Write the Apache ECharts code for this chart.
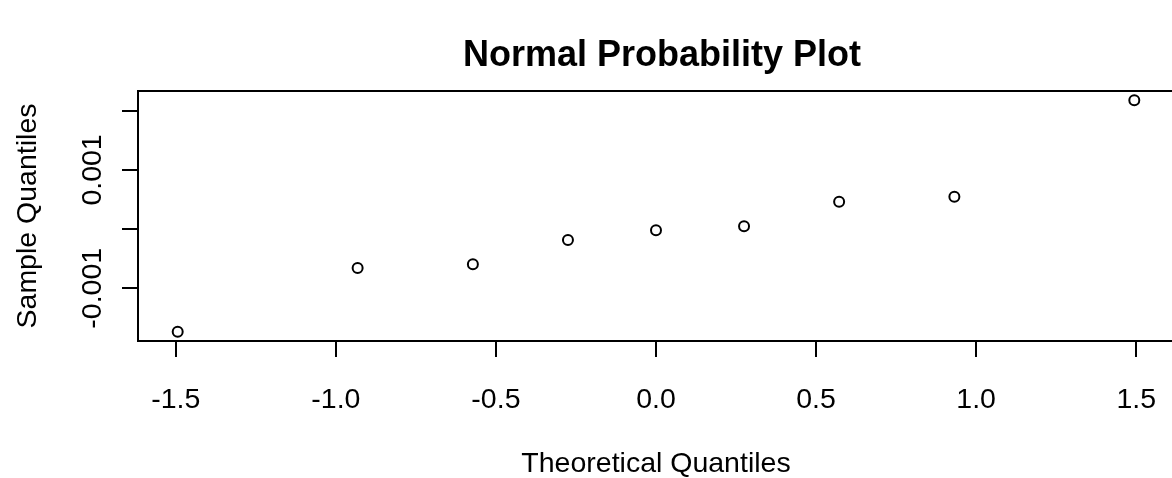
<!DOCTYPE html>
<html>
<head>
<meta charset="utf-8">
<script src="https://cdn.jsdelivr.net/npm/echarts@6/dist/echarts.min.js"></script>
<style>
  html, body { margin: 0; padding: 0; background: #fff; }
  #chart { width: 1172px; height: 478px; }
</style>
</head>
<body>
<div id="chart"></div>
<script>
// theoretical quantiles (n = 9) and the sample quantiles
const theoretical = [-1.494, -0.932, -0.572, -0.275, 0, 0.275, 0.572, 0.932, 1.494];
const sample = [-0.001735, -0.000658, -0.000595, -0.000184, -0.00002, 0.000047, 0.000463, 0.000548, 0.002178];
const xTicks = [-1.5, -1.0, -0.5, 0.0, 0.5, 1.0, 1.5];
const yTicks = [-0.001, 0, 0.001, 0.002];
const yLabels = [-0.001, 0.001];

const font = "Liberation Sans";
const points = theoretical.map((x, i) => [x, sample[i]]);

var myChart = echarts.init(document.getElementById("chart"));

myChart.setOption({
  animation: false,
  title: {
    text: "Normal Probability Plot",
    left: 657,
    top: 33,
    textAlign: "center",
    textStyle: { fontFamily: font, fontSize: 36, fontWeight: "bold", color: "#000" },
  },
  grid: {
    left: 138,
    top: 91,
    right: -2,
    bottom: 137,
    containLabel: false,
    outerBoundsMode: "none",
    show: true,
    borderColor: "#000",
    borderWidth: 2,
  },
  xAxis: {
    type: "value",
    min: -1.618,
    max: 1.618,
    name: "Theoretical Quantiles",
    nameLocation: "middle",
    nameGap: 109,
    nameTextStyle: { fontFamily: font, fontSize: 28.5, color: "#000" },
    splitLine: { show: false },
    axisLine: { show: true, onZero: false, lineStyle: { color: "#000", width: 2 } },
    axisTick: { show: true, length: 16, customValues: xTicks, lineStyle: { color: "#000", width: 2 } },
    axisLabel: {
      customValues: xTicks,
      margin: 45,
      fontFamily: font,
      fontSize: 28.5,
      color: "#000",
      formatter: (v) => v.toFixed(1),
    },
  },
  yAxis: {
    type: "value",
    min: -0.001892,
    max: 0.002335,
    name: "Sample Quantiles",
    nameLocation: "middle",
    nameRotate: 90,
    nameGap: 95,
    nameTextStyle: { fontFamily: font, fontSize: 28.5, color: "#000" },
    splitLine: { show: false },
    axisLine: { show: true, onZero: false, lineStyle: { color: "#000", width: 2 } },
    axisTick: { show: true, length: 16, customValues: yTicks, lineStyle: { color: "#000", width: 2 } },
    axisLabel: {
      customValues: yLabels,
      rotate: 90,
      margin: 30,
      fontFamily: font,
      fontSize: 28.5,
      color: "#000",
      formatter: (v) => v.toFixed(3),
    },
  },
  series: [
    {
      type: "scatter",
      data: points,
      symbol: "circle",
      symbolSize: 10,
      itemStyle: { color: "#fff", borderColor: "#000", borderWidth: 2, opacity: 1 },
    },
  ],
});
</script>
</body>
</html>
